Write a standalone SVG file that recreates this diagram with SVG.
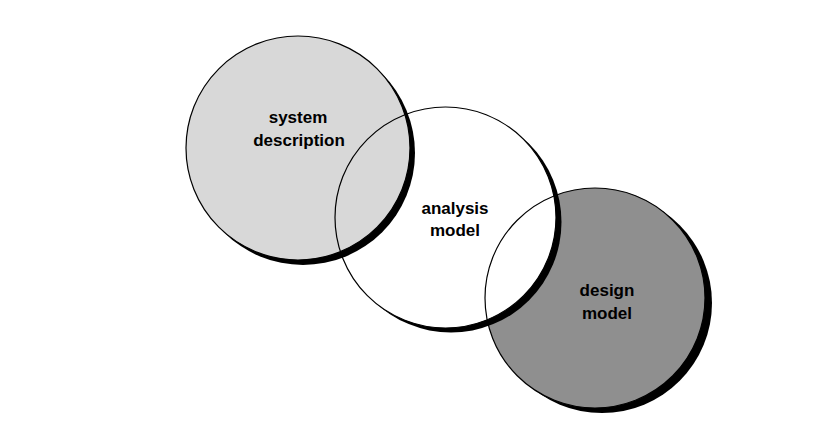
<svg xmlns="http://www.w3.org/2000/svg" width="837" height="442" viewBox="0 0 837 442">
<style>
.shadow{fill:#000}
.outline{fill:none;stroke:#000;stroke-width:1.2}
.lbl{font-family:"Liberation Sans",Arial,sans-serif;font-weight:bold;font-size:17px;fill:#000;text-anchor:middle}
</style>
<rect width="837" height="442" fill="#fff"/>
<g id="design-model">
<circle class="shadow" cx="602" cy="303" r="110"/>
<circle cx="595" cy="298" r="110" fill="#8f8f8f"/>
<text class="lbl" x="607" y="296">design</text>
<text class="lbl" x="607" y="319">model</text>
</g>
<g id="analysis-model">
<circle class="shadow" cx="451" cy="222" r="110.5"/>
<circle cx="445.5" cy="217.5" r="110.5" fill="#fff"/>
<text class="lbl" x="455" y="214">analysis</text>
<text class="lbl" x="455" y="236">model</text>
</g>
<g id="system-description">
<circle class="shadow" cx="303" cy="153" r="112"/>
<circle cx="298" cy="148" r="112" fill="#d8d8d8"/>
<text class="lbl" x="298" y="123">system</text>
<text class="lbl" x="299" y="146">description</text>
</g>
<g id="outlines">
<circle class="outline" cx="595" cy="298" r="110"/>
<circle class="outline" cx="445.5" cy="217.5" r="110.5"/>
<circle class="outline" cx="298" cy="148" r="112"/>
</g>
</svg>
